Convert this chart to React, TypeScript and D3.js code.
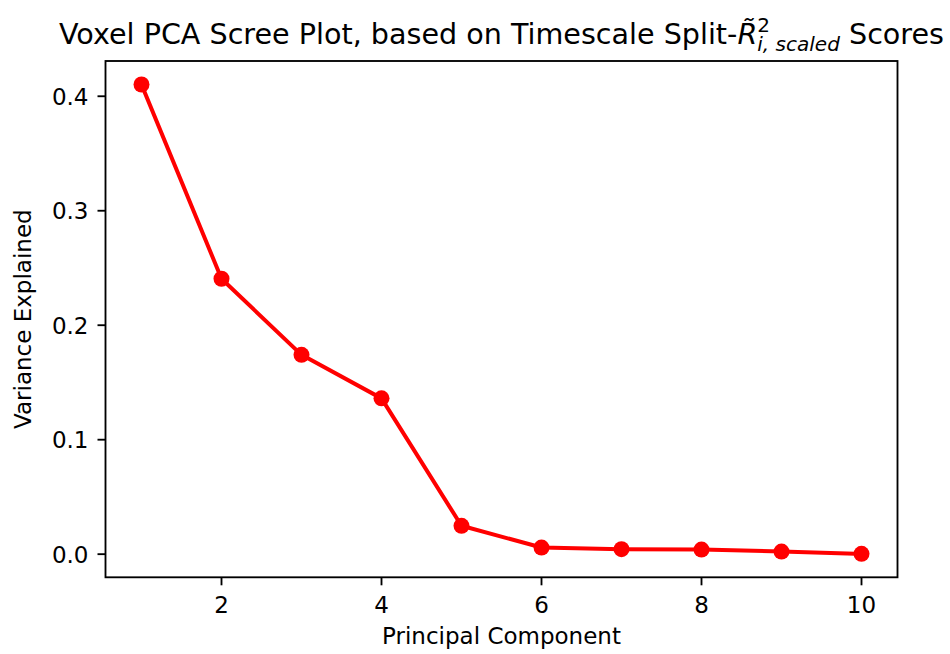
import React from "react";
import * as d3 from "d3";

// Principal components and the share of variance each one explains
const components = [1, 2, 3, 4, 5, 6, 7, 8, 9, 10];
const varianceExplained = [0.4103, 0.2406, 0.1741, 0.1361, 0.0248, 0.0058, 0.0044, 0.004, 0.0023, 0.0003];
const xTickValues = [2, 4, 6, 8, 10];
const yTickValues = [0.0, 0.1, 0.2, 0.3, 0.4];

const W = 950;
const H = 654;
const plot = { left: 105.5, right: 897.5, top: 61, bottom: 577.3 };

const FONT = "'DejaVu Sans', sans-serif";
const TICK_SIZE = 23;
const TITLE_SIZE = 28.6;
const LINE_COLOR = "#ff0000";

export default function App() {
  // axis limits padded by 5% of the data span on each side
  const xMin = d3.min(components)!;
  const xMax = d3.max(components)!;
  const xPad = (xMax - xMin) * 0.05;
  const yMin = d3.min(varianceExplained)!;
  const yMax = d3.max(varianceExplained)!;
  const yPad = (yMax - yMin) * 0.05;

  const x = d3.scaleLinear().domain([xMin - xPad, xMax + xPad]).range([plot.left, plot.right]);
  const y = d3.scaleLinear().domain([yMin - yPad, yMax + yPad]).range([plot.bottom, plot.top]);

  const points = components.map((c, i) => [c, varianceExplained[i]] as [number, number]);
  const line = d3
    .line<[number, number]>()
    .x((d) => x(d[0]))
    .y((d) => y(d[1]));

  const tickLen = 8;
  const axisW = 1.85;
  const scriptSize = TITLE_SIZE * 0.7;
  const twoWidth = scriptSize * 0.636;

  return (
    <svg
      width={W}
      height={H}
      viewBox={`0 0 ${W} ${H}`}
      style={{ position: "absolute", left: 0, top: 0, background: "#fff" }}
      fontFamily={FONT}
    >
      <rect x={0} y={0} width={W} height={H} fill="#fff" />

      {/* title with the R-tilde math expression: superscript 2 stacked over the subscript */}
      <text x={(plot.left + plot.right) / 2} y={44} fontSize={TITLE_SIZE} textAnchor="middle" fill="#000">
        <tspan>Voxel PCA Scree Plot, based on Timescale Split-</tspan>
        <tspan fontStyle="italic">R&#x0303;</tspan>
        <tspan fontSize={scriptSize} dy={-12}>2</tspan>
        <tspan fontSize={scriptSize} fontStyle="italic" dx={-twoWidth} dy={19}>i, scaled</tspan>
        <tspan dy={-7}> Scores</tspan>
      </text>

      {/* series */}
      <path
        d={line(points) ?? ""}
        fill="none"
        stroke={LINE_COLOR}
        strokeWidth={4}
        strokeLinejoin="round"
        strokeLinecap="square"
      />
      {points.map((p, i) => (
        <circle key={i} cx={x(p[0])} cy={y(p[1])} r={8} fill={LINE_COLOR} />
      ))}

      {/* frame */}
      <rect
        x={plot.left}
        y={plot.top}
        width={plot.right - plot.left}
        height={plot.bottom - plot.top}
        fill="none"
        stroke="#000"
        strokeWidth={axisW}
      />

      {/* x axis ticks */}
      {xTickValues.map((t) => (
        <g key={`x${t}`}>
          <line x1={x(t)} x2={x(t)} y1={plot.bottom} y2={plot.bottom + tickLen} stroke="#000" strokeWidth={axisW} />
          <text x={x(t)} y={plot.bottom + 36} fontSize={TICK_SIZE} textAnchor="middle" fill="#000">
            {t}
          </text>
        </g>
      ))}

      {/* y axis ticks */}
      {yTickValues.map((t) => (
        <g key={`y${t}`}>
          <line x1={plot.left - tickLen} x2={plot.left} y1={y(t)} y2={y(t)} stroke="#000" strokeWidth={axisW} />
          <text x={plot.left - 17} y={y(t) + 8.4} fontSize={TICK_SIZE} textAnchor="end" fill="#000">
            {d3.format(".1f")(t)}
          </text>
        </g>
      ))}

      {/* axis labels */}
      <text x={(plot.left + plot.right) / 2} y={644} fontSize={TICK_SIZE} textAnchor="middle" fill="#000">
        Principal Component
      </text>
      <text
        transform={`translate(31, ${(plot.top + plot.bottom) / 2}) rotate(-90)`}
        fontSize={TICK_SIZE}
        textAnchor="middle"
        fill="#000"
      >
        Variance Explained
      </text>
    </svg>
  );
}
